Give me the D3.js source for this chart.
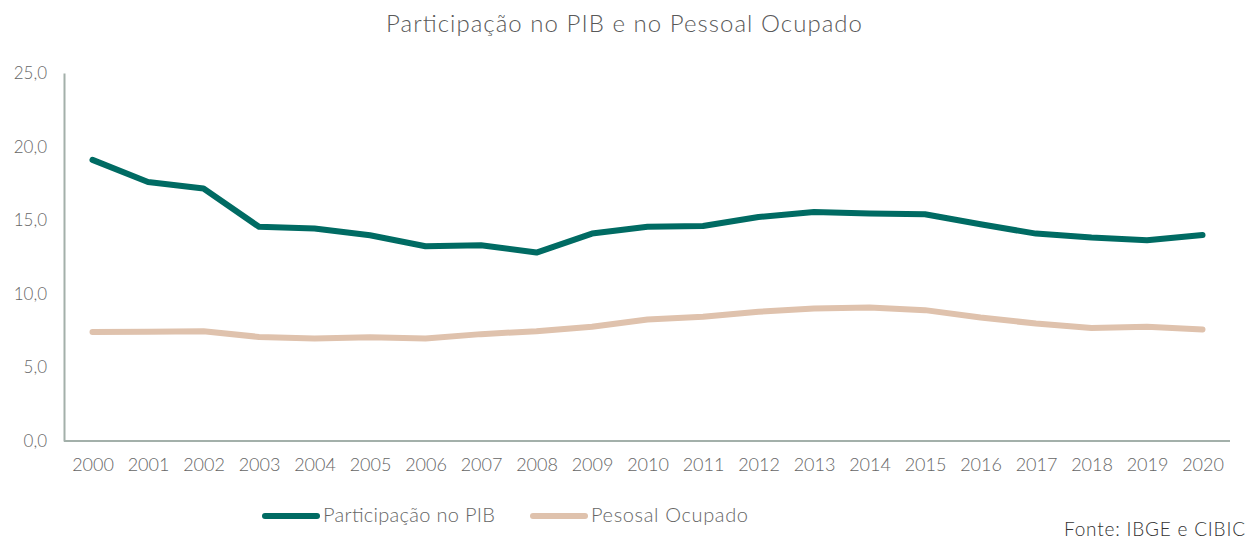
<!DOCTYPE html>
<html><head><meta charset="utf-8">
<script src="https://cdn.jsdelivr.net/npm/d3@7"></script>
<style>body{margin:0;background:#fff;} svg{display:block;font-family:Lato,"Open Sans",sans-serif;}</style>
</head><body>
<svg id="c" width="1258" height="542"></svg>
<script>
const years = ["2000","2001","2002","2003","2004","2005","2006","2007","2008","2009","2010","2011","2012","2013","2014","2015","2016","2017","2018","2019","2020"];
const pib = [19.1,17.6,17.15,14.55,14.43,13.98,13.23,13.3,12.8,14.09,14.55,14.61,15.22,15.56,15.45,15.4,14.72,14.09,13.82,13.64,14.0];
const pessoal = [7.4,7.42,7.46,7.07,6.97,7.05,6.97,7.26,7.46,7.76,8.26,8.44,8.78,9.0,9.07,8.89,8.39,7.98,7.67,7.76,7.58];
const yTicks = [0,5,10,15,20,25];
const seriesNames = ["Participação no PIB","Pesosal Ocupado"];
const colors = ["#006b63","#dfc2ad"];

const svg = d3.select("#c");
const x = d3.scalePoint().domain(years).range([92.5,1202.5]);
const y = d3.scaleLinear().domain([0,25]).range([441,73]);
const fmt = v => d3.format(".1f")(v).replace(".",",");

svg.append("text").attr("x",386).attr("y",32)
  .attr("font-size",24).attr("font-weight",300).attr("fill","#595959")
  .attr("textLength",476).attr("lengthAdjust","spacing")
  .text("Participação no PIB e no Pessoal Ocupado");

const ya = svg.append("g").attr("transform","translate(64,0)")
  .call(d3.axisLeft(y).tickValues(yTicks).tickSize(0).tickPadding(17).tickFormat(fmt));
ya.select(".domain").attr("stroke","#a3b0aa").attr("stroke-width",2);
ya.selectAll("text").attr("font-size",17).attr("font-weight",300).attr("fill","#666").attr("font-family","Lato");

const xa = svg.append("g").attr("transform","translate(0,441)")
  .call(d3.axisBottom(x).tickSize(0).tickPadding(17));
xa.select(".domain").attr("d","M64,0H1230").attr("stroke","#a3b0aa").attr("stroke-width",2);
xa.selectAll("text").attr("font-size",18).attr("font-weight",300).attr("fill","#666").attr("font-family","Lato");

const line = d3.line().x((d,i)=>x(years[i])).y(d=>y(d));
[pessoal,pib].forEach((s,k)=>{
  const c = k===0?colors[1]:colors[0];
  svg.append("path").attr("d",line(s)).attr("fill","none").attr("stroke",c)
    .attr("stroke-width",6).attr("stroke-linejoin","round").attr("stroke-linecap","round");
});

const leg = [{x1:265,x2:317,tx:323,w:172},{x1:533,x2:585,tx:591,w:157}];
leg.forEach((l,i)=>{
  svg.append("line").attr("x1",l.x1).attr("x2",l.x2).attr("y1",516).attr("y2",516)
    .attr("stroke",colors[i]).attr("stroke-width",6).attr("stroke-linecap","round");
  svg.append("text").attr("x",l.tx).attr("y",522).attr("font-size",20).attr("font-weight",300)
    .attr("fill","#666").attr("textLength",l.w).attr("lengthAdjust","spacing").text(seriesNames[i]);
});

svg.append("text").attr("x",1064).attr("y",536)
  .attr("font-size",19).attr("font-weight",300).attr("fill","#333").attr("textLength",181).attr("lengthAdjust","spacing")
  .text("Fonte: IBGE e CIBIC");
</script>
</body></html>
